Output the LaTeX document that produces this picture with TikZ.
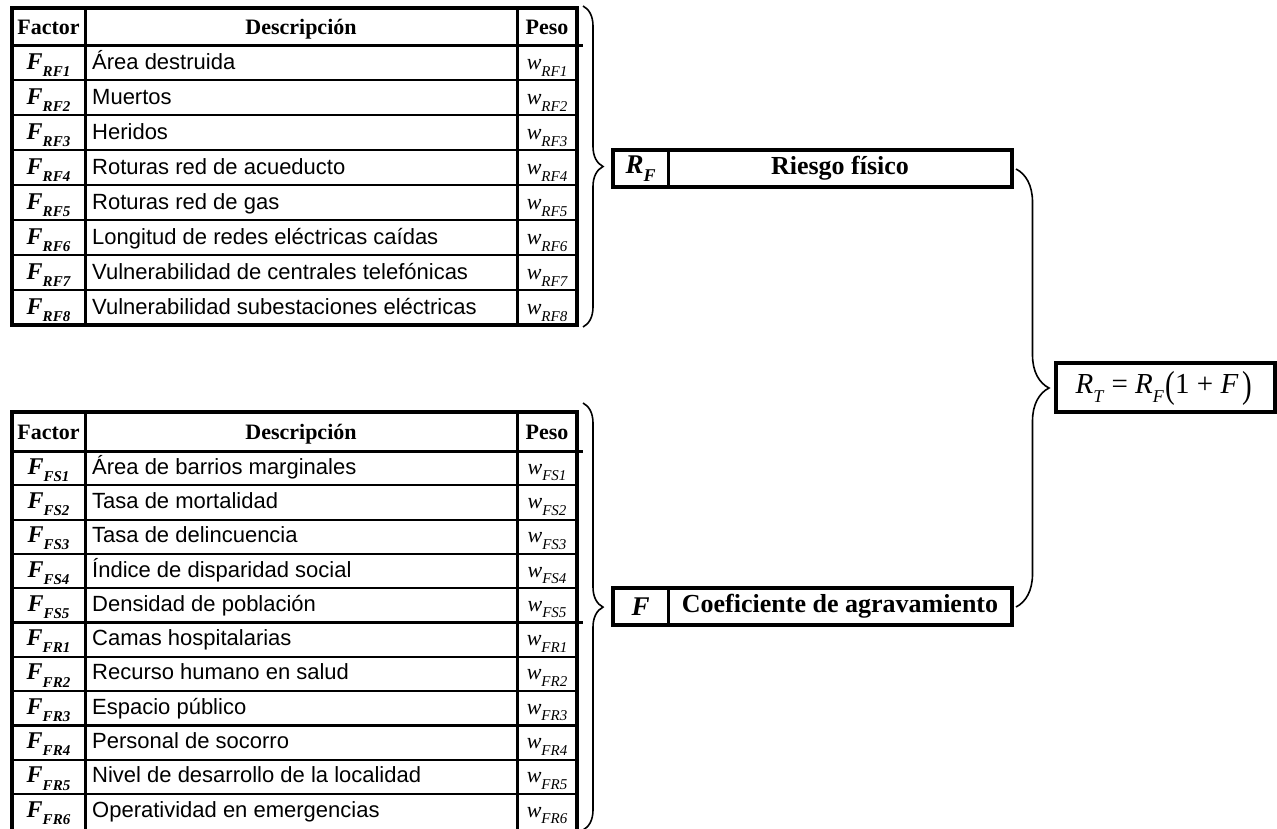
\documentclass[tikz,border=0pt]{standalone}
\usepackage{fontspec}
\usepackage{graphicx}
\setmainfont{Liberation Serif}
\newfontfamily\arialf{Liberation Sans}
\usetikzlibrary{decorations.pathreplacing}
\newcommand\sbs[1]{\raisebox{-0.3em}{\fontsize{15}{15}\selectfont #1}}
\newcommand\fsub[1]{\raisebox{-0.3em}{\fontsize{18}{18}\selectfont #1}}
\newcommand\bigpar[1]{\raisebox{-0.12em}{\scalebox{1}[1.3]{#1}}}
\tikzset{
  hdr/.style={font=\fontsize{22}{22}\selectfont\bfseries, inner sep=0pt, anchor=base},
  fac/.style={font=\fontsize{24}{24}\selectfont\bfseries\itshape, inner sep=0pt, anchor=base},
  desc/.style={font=\arialf\fontsize{22}{22}\selectfont, inner sep=0pt, anchor=base west},
  wt/.style={font=\fontsize{22}{22}\selectfont\itshape, inner sep=0pt, anchor=base},
  boxtxt/.style={font=\fontsize{26}{26}\selectfont\bfseries, inner sep=0pt},
  boxsym/.style={font=\fontsize{27}{27}\selectfont\bfseries\itshape, inner sep=0pt},
  outerline/.style={line width=3.5pt},
  colline/.style={line width=3pt},
  rowline/.style={line width=2.2pt},
  brc/.style={decorate, decoration={brace, amplitude=#1}, line width=1.6pt},
}
\begin{document}
\begin{tikzpicture}[x=1pt,y=-1pt]
\fill[white] (0,0) rectangle (1277,828);
\useasboundingbox (0,0) rectangle (1277,828);

% ---------- top table ----------
\foreach \i in {1,...,7}{\draw[rowline] (12,45+35*\i) -- (577,45+35*\i);}
\draw[colline] (85,8) -- (85,325);
\draw[colline] (517,8) -- (517,325);
\draw[colline] (12,45) -- (583,45);
\draw[outerline] (12,8) rectangle (577,325);
\node[hdr] (thf) at (48.5,34) {Factor};
\node[hdr] (thd) at (301,34) {Descripción};
\node[hdr] (thw) at (547,34) {Peso};
\foreach \c/\t [count=\i] in {RF1/Área destruida,RF2/Muertos,RF3/Heridos,RF4/Roturas red de acueducto,RF5/Roturas red de gas,RF6/Longitud de redes eléctricas caídas,RF7/Vulnerabilidad de centrales telefónicas,RF8/Vulnerabilidad subestaciones eléctricas}{
  \pgfmathsetmacro\yc{45+35*(\i-0.5)+7}
  \node[fac] (f\c) at (48.5,\yc) {F\sbs{\c}};
  \node[desc] (d\c) at (92,\yc) {\t};
  \node[wt] (w\c) at (547,\yc) {w\sbs{\c}};
}

% ---------- bottom table ----------
\foreach \i in {1,...,10}{\draw[rowline] (12,451+34.3*\i) -- (577,451+34.3*\i);}
\draw[colline] (12,622.5) -- (583,622.5);
\draw[colline] (85,412) -- (85,832);
\draw[colline] (517,412) -- (517,832);
\draw[colline] (12,451) -- (583,451);
\draw[outerline] (12,412) rectangle (577,832);
\node[hdr] (bhf) at (48.5,439) {Factor};
\node[hdr] (bhd) at (301,439) {Descripción};
\node[hdr] (bhw) at (547,439) {Peso};
\foreach \c/\t [count=\i] in {FS1/Área de barrios marginales,FS2/Tasa de mortalidad,FS3/Tasa de delincuencia,FS4/Índice de disparidad social,FS5/Densidad de población,FR1/Camas hospitalarias,FR2/Recurso humano en salud,FR3/Espacio público,FR4/Personal de socorro,FR5/Nivel de desarrollo de la localidad,FR6/Operatividad en emergencias}{
  \pgfmathsetmacro\yc{451+34.3*(\i-0.5)+6}
  \node[fac] (f\c) at (48.5,\yc) {F\sbs{\c}};
  \node[desc] (d\c) at (92,\yc) {\t};
  \node[wt] (w\c) at (547,\yc) {w\sbs{\c}};
}

% ---------- R_F box ----------
\draw[colline] (668,150) -- (668,187);
\draw[outerline] (613,150) rectangle (1012,187);
\node[boxsym] (rfs) at (640.5,168.5) {R\fsub{F}};
\node[boxtxt] (rft) at (840,168.5) {Riesgo físico};

% ---------- F box ----------
\draw[colline] (668,588) -- (668,625);
\draw[outerline] (613,588) rectangle (1012,625);
\node[boxsym] (fs) at (640.5,606.5) {F};
\node[boxtxt] (ft) at (840,606.5) {Coeficiente de agravamiento};

% ---------- formula box ----------
\draw[line width=4pt] (1056,363) rectangle (1275,412);
\node[inner sep=0pt, font=\fontsize{29}{29}\selectfont] (rt) at (1164,388)
  {\textit{R}\raisebox{-0.3em}{\fontsize{18}{18}\selectfont\textit{T}}\hspace{0.25em}=\hspace{0.25em}\textit{R}\raisebox{-0.3em}{\fontsize{18}{18}\selectfont\textit{F}}\hspace{0.05em}\bigpar{(}1\hspace{0.25em}+\hspace{0.25em}\textit{F}\hspace{0.15em}\bigpar{)}};

% ---------- braces ----------
\coordinate (tb1) at (583,6);
\coordinate (tb2) at (583,327);
\draw[brc=20] (tb1) -- (tb2);
\coordinate (bb1) at (583,403);
\coordinate (bb2) at (583,830);
\draw[brc=20, decoration={aspect=0.478}] (bb1) -- (bb2);
\coordinate (gb1) at (1016,169);
\coordinate (gb2) at (1016,607);
\draw[brc=33] (gb1) -- (gb2);
\end{tikzpicture}
\end{document}
